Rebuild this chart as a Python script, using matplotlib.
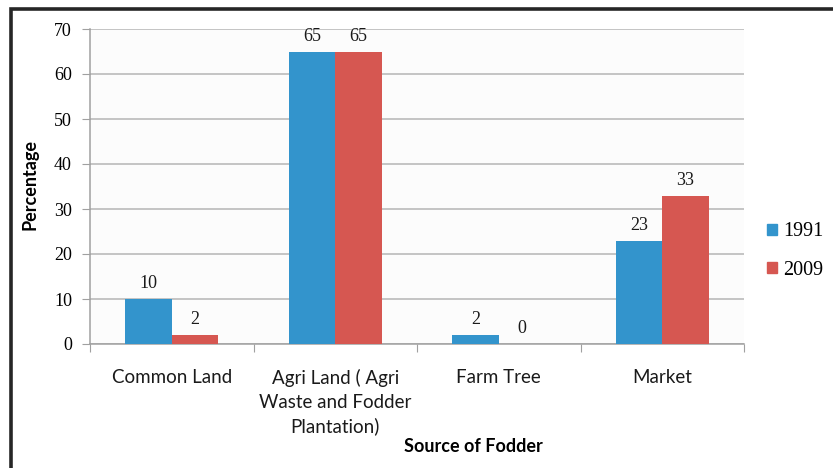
import numpy as np
import matplotlib
matplotlib.use("Agg")
import matplotlib.pyplot as plt
from matplotlib.patches import Rectangle, Patch

categories = ["Common Land", "Agri Land ( Agri\nWaste and Fodder\nPlantation)", "Farm Tree", "Market"]
series_names = ["1991", "2009"]
values_1991 = [10, 65, 2, 23]
values_2009 = [2, 65, 0, 33]
yticks = [0, 10, 20, 30, 40, 50, 60, 70]

blue = "#3394cc"
red = "#d65751"
label_font = "Lato"
num_font = "Liberation Serif"

fig = plt.figure(figsize=(8.33, 4.68), dpi=100)
fig.patch.set_facecolor("white")

# dark outer frame, running off the right and bottom edges
fig.add_artist(Rectangle((11/833, -0.05), 1.1, 1 - 9/468 + 0.05, transform=fig.transFigure,
                         fill=False, edgecolor="#262626", linewidth=2.6))

ax = fig.add_axes([90/833, 1 - 344/468, (744 - 90)/833, (344 - 29)/468])
ax.set_facecolor("#fcfcfc")

x = np.arange(len(categories))
w = 0.285
b1 = ax.bar(x - w/2, values_1991, w, color=blue, zorder=3)
b2 = ax.bar(x + w/2, values_2009, w, color=red, zorder=3)

for bars, vals in ((b1, values_1991), (b2, values_2009)):
    for rect, v in zip(bars, vals):
        ax.annotate(str(v), (rect.get_x() + rect.get_width()/2, v),
                    xytext=(0, 5), textcoords="offset points",
                    ha="center", va="bottom", fontsize=13, family=num_font, color="#1a1a1a")

ax.set_xlim(-0.5, len(categories) - 0.5)
ax.set_ylim(0, 70)
ax.set_yticks(yticks)
ax.set_yticklabels([str(t) for t in yticks], family=num_font, fontsize=13)
ax.yaxis.grid(True, color="#b5b5b5", linewidth=1.1, zorder=0)

# category labels sit between the boundary tick marks
ax.set_xticks(np.arange(len(categories) + 1) - 0.5)
ax.set_xticklabels([])
ax.tick_params(axis="x", length=6, color="#a0a0a0", direction="out")
ax.tick_params(axis="y", length=6, color="#a0a0a0", pad=7)
for i, c in enumerate(categories):
    ax.text(i, -5.6, c, ha="center", va="top", fontsize=13.5, family=label_font,
            linespacing=1.45, color="#1a1a1a")

for s in ("top", "right"):
    ax.spines[s].set_visible(False)
for s in ("left", "bottom"):
    ax.spines[s].set_color("#a0a0a0")
    ax.spines[s].set_linewidth(1.1)

fig.text(30/833, 1 - 185/468, "Percentage", rotation=90, ha="center", va="center",
         fontsize=13, fontweight="bold", family=label_font)
fig.text(473/833, 1 - 446/468, "Source of Fodder", ha="center", va="center",
         fontsize=13, fontweight="bold", family=label_font)

handles = [Patch(color=blue, label=series_names[0]), Patch(color=red, label=series_names[1])]
fig.legend(handles=handles, loc="center left", bbox_to_anchor=(767/833, 1 - 251/468),
           frameon=False, borderpad=0, borderaxespad=0,
           prop={"family": num_font, "size": 14.5}, handlelength=0.5,
           handleheight=0.5, handletextpad=0.3, labelspacing=0.95)

fig.savefig("out.png", dpi=100)
